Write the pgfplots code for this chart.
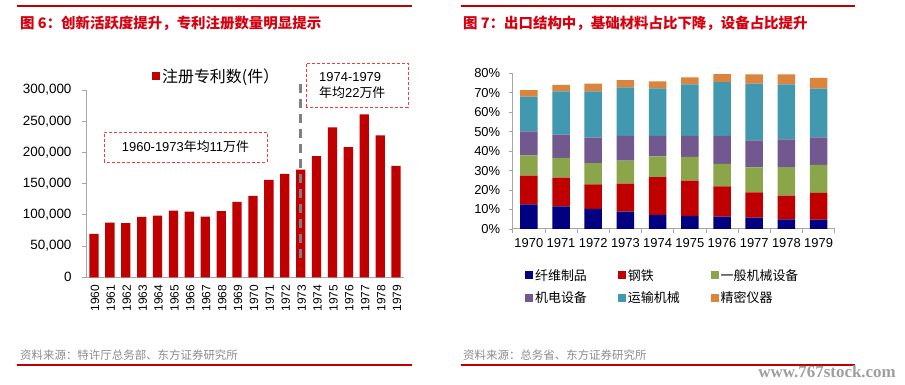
\documentclass[border=0pt]{standalone}
\usepackage{pgfplots}
\pgfplotsset{compat=1.18}
\usepackage{fontspec}
\setmainfont{Liberation Sans}
\newfontfamily\cjk{Noto Sans CJK SC}
\newfontfamily\wm{Liberation Serif}
\definecolor{barred}{HTML}{C00000}
\definecolor{titlered}{HTML}{D7000F}
\definecolor{linered}{HTML}{C00000}
\definecolor{boxred}{HTML}{F03C3C}
\definecolor{cnavy}{HTML}{000080}
\definecolor{cred}{HTML}{C00000}
\definecolor{cgreen}{HTML}{8BA54B}
\definecolor{cpurple}{HTML}{71588F}
\definecolor{cteal}{HTML}{4198AF}
\definecolor{corange}{HTML}{DB843D}
\definecolor{srcgray}{HTML}{8C8C8C}
\definecolor{axgray}{HTML}{A6A6A6}
\definecolor{dashgray}{HTML}{808080}
\newcommand{\fs}[1]{\fontsize{#1}{#1}\selectfont}

\pgfplotstableread{
x val
0 69500
1 87600
2 86600
3 96700
4 98800
5 106800
6 105300
7 97300
8 105800
9 120800
10 130400
11 156100
12 165700
13 172600
14 194000
15 240000
16 208600
17 260900
18 227200
19 178600
}\patents

\pgfplotstableread{
x fiber steel mach elec trans prec
0 12.7 14.7 10.4 12.4 17.8 3.4
1 11.6 14.8 10.2 11.9 22.2 3.4
2 10.4 12.5 11.0 13.0 23.8 4.0
3 8.9 14.4 11.8 12.8 24.9 3.7
4 7.3 19.4 10.6 10.6 24.4 3.6
5 6.8 18.0 12.2 10.9 26.4 3.6
6 6.3 15.6 11.5 14.5 27.6 4.1
7 5.8 13.0 12.9 13.8 29.2 4.8
8 5.0 12.1 14.7 14.3 28.2 5.2
9 4.8 13.7 14.5 14.1 25.0 5.6
}\exports

\begin{document}
\begin{tikzpicture}
\fill[white] (0bp,0bp) rectangle (905bp,385bp);
\useasboundingbox (0bp,0bp) rectangle (905bp,385bp);
% frame lines
\draw[linered, line width=1.2bp] (17bp,379bp) -- (412bp,379bp);
\draw[linered, line width=1.2bp] (17bp,20bp) -- (412bp,20bp);
\draw[linered, line width=1.2bp] (461bp,379bp) -- (855bp,379bp);
\draw[linered, line width=1.2bp] (461bp,20bp) -- (855bp,20bp);
% titles
\node[anchor=west, inner sep=0, text=titlered] at (20bp,362bp) {\cjk\bfseries\fs{14.5}图 6：创新活跃度提升，专利注册数量明显提示};
\node[anchor=west, inner sep=0, text=titlered] at (463bp,362bp) {\cjk\bfseries\fs{14.5}图 7：出口结构中，基础材料占比下降，设备占比提升};
% sources
\node[anchor=west, inner sep=0, text=srcgray] at (20bp,30bp) {\cjk\fs{11.5}资料来源：特许厅总务部、东方证券研究所};
\node[anchor=west, inner sep=0, text=srcgray] at (463bp,30bp) {\cjk\fs{11.5}资料来源：总务省、东方证券研究所};
\node[anchor=east, inner sep=0, text=gray!75] at (896bp,13bp) {\wm\bfseries\fs{17}www.767stock.com};

% left chart
\begin{axis}[
  at={(86bp,107.7bp)}, anchor=south west,
  scale only axis, width=318bp, height=187.3bp,
  xmin=-0.5, xmax=19.5, ymin=0, ymax=300000,
  ybar, bar width=9.3bp,
  axis x line*=bottom, axis y line*=left,
  axis line style={axgray, line width=1bp},
  xtick={0,...,19},
  xticklabels={1960,1961,1962,1963,1964,1965,1966,1967,1968,1969,1970,1971,1972,1973,1974,1975,1976,1977,1978,1979},
  x tick label style={rotate=90, anchor=east, font=\fs{12}, yshift=-1bp},
  x tick style={draw=none},
  scaled y ticks=false,
  ytick={0,50000,100000,150000,200000,250000,300000},
  yticklabels={0,{50,000},{100,000},{150,000},{200,000},{250,000},{300,000}},
  y tick label style={font=\fs{13.5}, xshift=-7bp},
  y tick style={axgray, line width=0.8bp},
  tick align=outside, major tick length=4bp,
  clip=false,
  legend style={at={(0.2075,1.075)}, anchor=west, draw=none, fill=none, inner sep=0pt, font=\cjk\fs{16}},
  legend cell align=left,
  every axis plot post/.append style={legend image code/.code={\fill[##1,draw=none] (0bp,-4bp) rectangle (8bp,4bp);}},
]
\addplot[fill=barred, draw=none] table[x=x, y=val] {\patents};
\addlegendentry{注册专利数(件）}
\draw[dashgray, line width=2.5bp, dash pattern=on 9bp off 6bp] (axis cs:13,31000) -- (axis cs:13,309000);
\end{axis}
% annotation boxes
\draw[boxred, line width=0.9bp, dash pattern=on 3bp off 2bp] (104bp,223bp) rectangle (267bp,253bp);
\node[inner sep=0] at (185.5bp,238bp) {\fs{13}1960-1973{\cjk 年均}11{\cjk 万件}};
\draw[boxred, line width=0.9bp, dash pattern=on 3bp off 2bp] (306bp,278bp) rectangle (408bp,322bp);
\node[anchor=west, inner sep=0] at (319bp,308bp) {\fs{13}1974-1979};
\node[anchor=west, inner sep=0] at (319bp,292bp) {\fs{13}{\cjk 年均}22{\cjk 万件}};

% right chart
\begin{axis}[
  at={(512.7bp,156bp)}, anchor=south west,
  scale only axis, width=322bp, height=155.7bp,
  xmin=-0.5, xmax=9.5, ymin=0, ymax=80,
  ybar stacked, bar width=17.5bp,
  axis x line*=bottom, axis y line*=left,
  axis line style={axgray, line width=1bp},
  xtick={-0.5,0.5,1.5,2.5,3.5,4.5,5.5,6.5,7.5,8.5,9.5},
  xticklabels={},
  extra x ticks={0,1,2,3,4,5,6,7,8,9},
  extra x tick labels={1970,1971,1972,1973,1974,1975,1976,1977,1978,1979},
  extra x tick style={tick style={draw=none}},
  x tick label style={font=\fs{13}, yshift=-2bp},
  ytick={0,10,20,30,40,50,60,70,80},
  yticklabels={0\%,10\%,20\%,30\%,40\%,50\%,60\%,70\%,80\%},
  y tick label style={font=\fs{13}, xshift=-5bp},
  tick style={axgray, line width=0.8bp},
  tick align=outside, major tick length=4bp,
  legend columns=3,
  legend style={at={(0.038,-0.244)}, anchor=north west, draw=none, fill=none, inner sep=0pt, font=\cjk\fs{13}, row sep=6bp, /tikz/every even column/.append style={column sep=29bp}},
  legend cell align=left,
  every axis plot post/.append style={legend image code/.code={\fill[##1,draw=none] (0bp,-4bp) rectangle (8bp,4bp);}},
]
\addplot[fill=cnavy, draw=none] table[x=x, y=fiber] {\exports};
\addplot[fill=cred, draw=none] table[x=x, y=steel] {\exports};
\addplot[fill=cgreen, draw=none] table[x=x, y=mach] {\exports};
\addplot[fill=cpurple, draw=none] table[x=x, y=elec] {\exports};
\addplot[fill=cteal, draw=none] table[x=x, y=trans] {\exports};
\addplot[fill=corange, draw=none] table[x=x, y=prec] {\exports};
\legend{纤维制品,钢铁,一般机械设备,机电设备,运输机械,精密仪器}
\end{axis}
\end{tikzpicture}
\end{document}
